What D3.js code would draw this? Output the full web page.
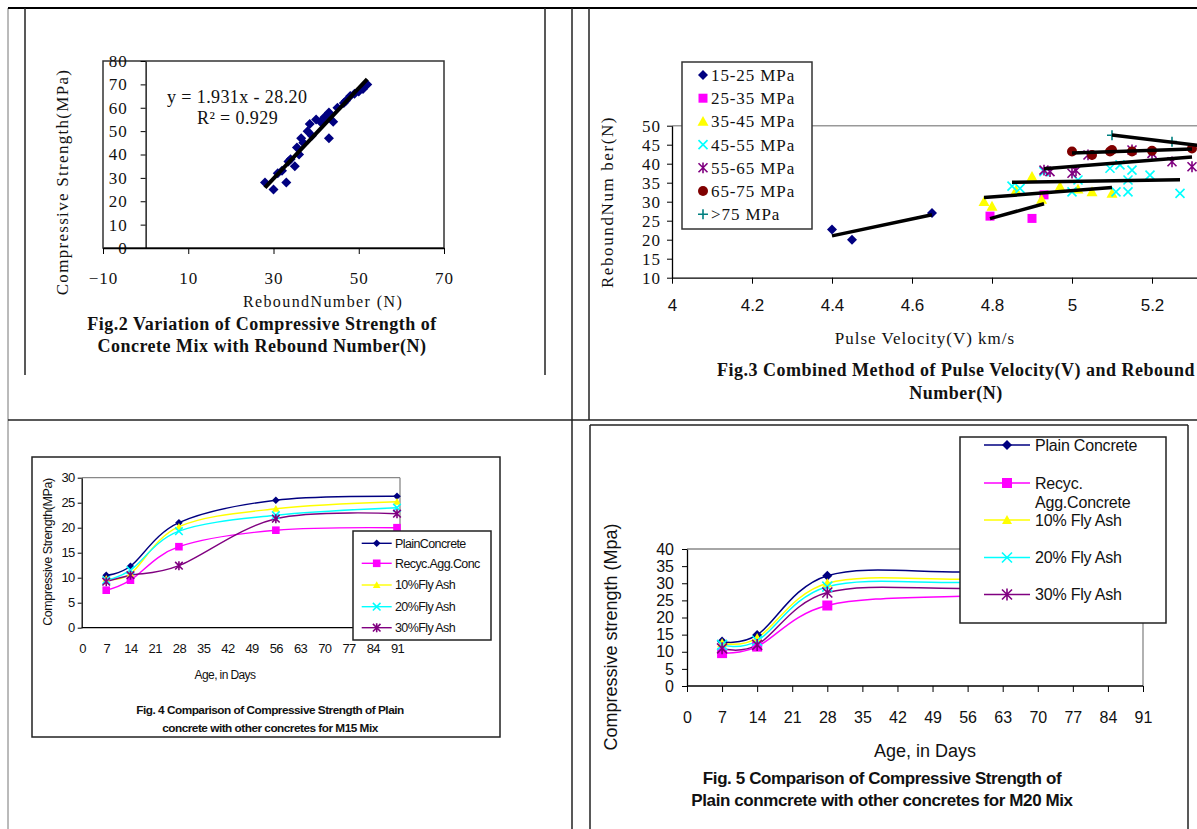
<!DOCTYPE html>
<html>
<head>
<meta charset="utf-8">
<script src="https://cdn.jsdelivr.net/npm/d3@7"></script>
<style>
  body { margin: 0; background: #fff; }
  svg { display: block; }
</style>
</head>
<body>
<svg id="page" width="1197" height="829"></svg>
<script>
// ---------- Fig.2 : compressive strength vs rebound number
const reboundN    = [28, 30, 31, 32, 33, 33.5, 34, 35, 35.5, 36, 36.5, 37, 38, 38.5, 39, 40, 41, 42, 43, 43, 44, 45, 46.5, 47, 48, 49, 50, 51, 52];
const strengthMPa = [28, 25, 32, 33, 28, 37, 38, 35, 43, 40, 47, 45, 50, 53, 48, 55, 54, 56, 47, 58, 54, 60, 62, 63, 65, 66, 67, 68, 70];
const fig2Slope = 1.931, fig2Intercept = -28.20;
const fig2XTicks = [-10, 10, 30, 50, 70];
const fig2YTicks = [0, 10, 20, 30, 40, 50, 60, 70, 80];

// ---------- Fig.3 : pulse velocity (km/s) vs rebound number, by strength band
const band15_25 = [[4.4, 22.7], [4.45, 20], [4.65, 27]];
const band25_35 = [[4.795, 26.2], [4.9, 25.6], [4.93, 31.8]];
const band35_45 = [[4.78, 30], [4.8, 28.8], [4.86, 33], [4.9, 36.6], [4.924, 30.6], [4.97, 34], [5.015, 33.3], [5.05, 32.6], [5.1, 32.2]];
const band45_55 = [[4.85, 34.1], [4.87, 33.5], [4.93, 37.9], [5.0, 32.6], [5.015, 35.7], [5.095, 38.8], [5.11, 32.6], [5.12, 39.7], [5.14, 32.6], [5.14, 35.7], [5.15, 38.3], [5.195, 37], [5.27, 32.2]];
const band55_65 = [[4.93, 38.3], [4.945, 37.9], [5.0, 37.5], [5.01, 38.2], [5.04, 42.3], [5.15, 43.6], [5.2, 42.7], [5.25, 40.5], [5.3, 39.2]];
const band65_75 = [[5.0, 43.2], [5.05, 42.3], [5.095, 43.2], [5.1, 43.6], [5.15, 43.2], [5.2, 43.4], [5.3, 44]];
const band75up  = [[5.1, 47.5], [5.25, 45.8], [5.36, 44.2]];
const bandNames = ["15-25 MPa", "25-35 MPa", "35-45 MPa", "45-55 MPa", "55-65 MPa", "65-75 MPa", ">75 MPa"];
const fig3XTicks = [4, 4.2, 4.4, 4.6, 4.8, 5, 5.2];
const fig3YTicks = [10, 15, 20, 25, 30, 35, 40, 45, 50];

// ---------- Fig.4 (M15) and Fig.5 (M20) : strength vs age
const ageDays = [7, 14, 28, 56, 91];
const m15Plain = [10.5, 12.3, 21, 25.5, 26.3];
const m15Recyc = [7.5, 9.5, 16.2, 19.5, 20];
const m15Fly10 = [9.8, 10.8, 20.2, 23.8, 25.2];
const m15Fly20 = [9.5, 11.5, 19.3, 22.5, 24];
const m15Fly30 = [9.2, 10.5, 12.4, 21.8, 22.8];
const m20Plain = [13, 14.9, 32.2, 33.3, 33.5];
const m20Recyc = [9.6, 11.5, 23.5, 26.3, 26.8];
const m20Fly10 = [12.5, 14, 30, 31.2, 31.4];
const m20Fly20 = [12, 13.2, 29, 30.2, 30.4];
const m20Fly30 = [11, 12, 27.3, 28.5, 28.7];
const ageTicks = [0, 7, 14, 21, 28, 35, 42, 49, 56, 63, 70, 77, 84, 91];
const m15YTicks = [0, 5, 10, 15, 20, 25, 30];
const m20YTicks = [0, 5, 10, 15, 20, 25, 30, 35, 40];

const SERIF = "'Liberation Serif','Times New Roman',serif";
const SANS = "'Liberation Sans',Arial,sans-serif";

const svg = d3.select("#page");
svg.append("rect").attr("width", 1197).attr("height", 829).attr("fill", "#fff");

// marker shapes (h = half size)
const shapes = {
  diamond: h => `M0,${-h}L${h},0L0,${h}L${-h},0Z`,
  square: h => `M${-h},${-h}H${h}V${h}H${-h}Z`,
  triangle: h => `M0,${-h}L${h},${h * 0.8}L${-h},${h * 0.8}Z`,
  circle: h => `M${-h},0A${h},${h} 0 1,0 ${h},0A${h},${h} 0 1,0 ${-h},0Z`,
  x: h => `M${-h},${-h}L${h},${h}M${-h},${h}L${h},${-h}`,
  star: h => `M${-h},${-h}L${h},${h}M${-h},${h}L${h},${-h}M0,${-h * 1.2}V${h * 1.2}`,
  plus: h => `M${-h},0H${h}M0,${-h}V${h}`
};
const filled = { diamond: true, square: true, triangle: true, circle: true };

function marker(g, type, color, x, y, h) {
  const p = g.append("path").attr("transform", `translate(${x},${y})`).attr("d", shapes[type](h));
  if (filled[type]) p.attr("fill", color);
  else p.attr("fill", "none").attr("stroke", color).attr("stroke-width", 1.6);
  return p;
}

function label(g, x, y, str, o = {}) {
  const t = g.append("text").attr("x", x).attr("y", y).attr("dy", "0.35em")
    .attr("font-family", o.font || SERIF).attr("font-size", o.size || 16)
    .attr("font-weight", o.bold ? "bold" : "normal")
    .attr("text-anchor", o.anchor || "middle").attr("fill", o.color || "#111").text(str);
  if (o.rotate) t.attr("transform", `rotate(-90,${x},${y})`);
  if (o.ls) t.attr("letter-spacing", o.ls);
  return t;
}

function styleAxis(g, font, size, ls) {
  g.attr("font-family", font).attr("font-size", size);
  g.selectAll("line").attr("stroke", "#000");
  g.selectAll("path.domain").attr("stroke", "#000").attr("stroke-width", 1.3);
  g.selectAll("text").attr("fill", "#111");
  if (ls) g.selectAll("text").attr("letter-spacing", ls);
}

function line(g, x1, y1, x2, y2, color = "#000", w = 1.5) {
  g.append("line").attr("x1", x1).attr("y1", y1).attr("x2", x2).attr("y2", y2)
    .attr("stroke", color).attr("stroke-width", w);
}

function fitLine(pts) {
  const mx = d3.mean(pts, d => d[0]), my = d3.mean(pts, d => d[1]);
  const sxy = d3.sum(pts, d => (d[0] - mx) * (d[1] - my));
  const sxx = d3.sum(pts, d => (d[0] - mx) ** 2);
  const b = sxy / sxx;
  const [x0, x1] = d3.extent(pts, d => d[0]);
  return [[x0, my + b * (x0 - mx)], [x1, my + b * (x1 - mx)]];
}

// ---------- table frame
const frame = svg.append("g");
line(frame, 8, 8, 8, 829, "#777", 1);
line(frame, 8, 8, 1197, 8, "#000", 2);
line(frame, 25, 8, 25, 375, "#222", 1.5);
line(frame, 545, 8, 545, 375, "#222", 1.5);
line(frame, 572, 8, 572, 829, "#222", 1.5);
line(frame, 589, 8, 589, 420, "#222", 1.5);
line(frame, 8, 420, 1197, 420, "#222", 1.5);
frame.append("rect").attr("x", 32).attr("y", 457).attr("width", 468).attr("height", 280)
  .attr("fill", "none").attr("stroke", "#222").attr("stroke-width", 1.5);
line(frame, 590, 425, 590, 829, "#222", 1.5);
line(frame, 590, 425, 1188, 425, "#222", 1.5);
line(frame, 1188, 425, 1188, 829, "#222", 1.5);

// ---------- Fig.2
const f2 = svg.append("g");
const x2 = d3.scaleLinear([-10, 70], [103, 444]);
const y2 = d3.scaleLinear([0, 80], [248, 61]);
f2.append("rect").attr("x", 103).attr("y", 61).attr("width", 341).attr("height", 187)
  .attr("fill", "none").attr("stroke", "#333").attr("stroke-width", 1.5);
f2.append("g").attr("transform", `translate(${x2(0)},0)`)
  .call(d3.axisLeft(y2).tickValues(fig2YTicks).tickSize(5).tickSizeOuter(0).tickPadding(13))
  .call(g => styleAxis(g, SERIF, 17, 1));
f2.append("g").attr("transform", `translate(0,${y2(0)})`)
  .call(d3.axisBottom(x2).tickValues(fig2XTicks).tickSize(6).tickSizeOuter(0).tickPadding(18))
  .call(g => styleAxis(g, SERIF, 17, 1));
reboundN.forEach((n, i) => marker(f2, "diamond", "#000080", x2(n), y2(strengthMPa[i]), 5));
const [n0, n1] = d3.extent(reboundN);
f2.append("line")
  .attr("x1", x2(n0)).attr("y1", y2(fig2Slope * n0 + fig2Intercept))
  .attr("x2", x2(n1)).attr("y2", y2(fig2Slope * n1 + fig2Intercept))
  .attr("stroke", "#000").attr("stroke-width", 4);
label(f2, 167, 97, `y = ${fig2Slope}x - ${Math.abs(fig2Intercept).toFixed(2)}`, { anchor: "start", size: 18, ls: 0.4 });
label(f2, 197, 118, "R² = 0.929", { anchor: "start", size: 18, ls: 0.4 });
label(f2, 62, 182, "Compressive Strength(MPa)", { rotate: true, size: 17, ls: 1.3 });
label(f2, 323, 301, "ReboundNumber (N)", { size: 16, ls: 1.4 });
label(f2, 262, 324, "Fig.2 Variation of Compressive Strength of", { bold: true, size: 18, ls: 0.5 });
label(f2, 262, 346, "Concrete Mix with Rebound Number(N)", { bold: true, size: 18, ls: 0.5 });

// ---------- Fig.3
const f3 = svg.append("g");
const x3 = d3.scaleLinear([4, 5.4], [672, 1232]);
const y3 = d3.scaleLinear([10, 50], [277.7, 125.7]);
line(f3, x3(4), y3(50), 1197, y3(50), "#999", 1.6);
f3.append("g").attr("transform", `translate(${x3(4)},0)`)
  .call(d3.axisLeft(y3).tickValues(fig3YTicks).tickSize(5).tickSizeOuter(0).tickPadding(6))
  .call(g => styleAxis(g, SERIF, 17, 1));
f3.append("g").attr("transform", `translate(0,${y3(10)})`)
  .call(d3.axisBottom(x3).tickValues(fig3XTicks).tickSize(6).tickSizeOuter(0).tickPadding(15)
    .tickFormat(d => String(+d.toFixed(1))))
  .call(g => styleAxis(g, SANS, 17));
const bands = [
  { pts: band15_25, shape: "diamond", color: "#000080", h: 5 },
  { pts: band25_35, shape: "square", color: "#FF00FF", h: 4.5 },
  { pts: band35_45, shape: "triangle", color: "#FFFF00", h: 5.5 },
  { pts: band45_55, shape: "x", color: "#00FFFF", h: 4.5 },
  { pts: band55_65, shape: "star", color: "#800080", h: 4.5 },
  { pts: band65_75, shape: "circle", color: "#800000", h: 5 },
  { pts: band75up, shape: "plus", color: "#008080", h: 5 }
];
bands.forEach(b => b.pts.forEach(p => marker(f3, b.shape, b.color, x3(p[0]), y3(p[1]), b.h)));
bands.forEach(b => {
  const [a, c] = fitLine(b.pts);
  f3.append("line").attr("x1", x3(a[0])).attr("y1", y3(a[1])).attr("x2", x3(c[0])).attr("y2", y3(c[1]))
    .attr("stroke", "#000").attr("stroke-width", 3.5);
});
f3.append("rect").attr("x", 682).attr("y", 62).attr("width", 130).attr("height", 167)
  .attr("fill", "#fff").attr("stroke", "#333").attr("stroke-width", 1.5);
bands.forEach((b, i) => {
  const yy = 75 + i * 23.2;
  marker(f3, b.shape, b.color, 703, yy, b.h);
  label(f3, 711, yy, bandNames[i], { anchor: "start", size: 17, ls: 0.9 });
});
label(f3, 607, 202, "ReboundNum ber(N)", { rotate: true, size: 17, ls: 1.6 });
label(f3, 925, 338, "Pulse Velocity(V) km/s", { size: 17, ls: 1 });
label(f3, 956, 370, "Fig.3  Combined Method of Pulse Velocity(V) and Rebound", { bold: true, size: 18, ls: 0.5 });
label(f3, 956, 393, "Number(N)", { bold: true, size: 18, ls: 0.5 });

// ---------- age charts (Fig.4 and Fig.5)
function ageChart(cfg) {
  const g = svg.append("g");
  const x = d3.scaleLinear([0, 91], cfg.xRange);
  const y = d3.scaleLinear([0, cfg.yMax], cfg.yRange);
  line(g, cfg.box[0], cfg.yRange[1], cfg.box[1], cfg.yRange[1], "#888", 1.3);
  line(g, cfg.box[1], cfg.yRange[1], cfg.box[1], cfg.yRange[0], "#888", 1.3);
  g.append("g").attr("transform", `translate(${cfg.box[0]},0)`)
    .call(d3.axisLeft(y).tickValues(cfg.yTicks).tickSize(cfg.yTick).tickSizeOuter(0).tickPadding(cfg.yPad))
    .call(a => styleAxis(a, SANS, cfg.tickFont, cfg.ls));
  const xAxis = g.append("g").attr("transform", `translate(0,${cfg.yRange[0]})`)
    .call(d3.axisBottom(x).tickValues(ageTicks).tickSize(cfg.xTick).tickSizeOuter(0).tickPadding(cfg.xPad))
    .call(a => styleAxis(a, SANS, cfg.tickFont, cfg.ls));
  xAxis.select("path.domain").attr("d", `M${cfg.box[0]},0H${cfg.box[1]}`);
  const path = d3.line().x((d, i) => x(ageDays[i])).y(d => y(d)).curve(d3.curveCardinal);
  cfg.series.forEach(s => {
    g.append("path").attr("d", path(s.values)).attr("fill", "none")
      .attr("stroke", s.color).attr("stroke-width", cfg.lw);
  });
  cfg.series.forEach(s => s.values.forEach((v, i) =>
    marker(g, s.shape, s.color, x(ageDays[i]), y(v), cfg.mh)));
  const L = cfg.legend;
  g.append("rect").attr("x", L.x).attr("y", L.y).attr("width", L.w).attr("height", L.h)
    .attr("fill", "#fff").attr("stroke", "#222").attr("stroke-width", 1.5);
  cfg.series.forEach((s, i) => {
    const yy = L.rows[i];
    line(g, L.lx0, yy, L.lx1, yy, s.color, cfg.lw);
    marker(g, s.shape, s.color, (L.lx0 + L.lx1) / 2, yy, cfg.mh);
    s.label.forEach((t, k) =>
      label(g, L.tx, yy + k * L.lineGap, t, { anchor: "start", font: SANS, size: L.size, ls: L.ls }));
  });
  return g;
}

const seriesStyle = [
  { shape: "diamond", color: "#000080" },
  { shape: "square", color: "#FF00FF" },
  { shape: "triangle", color: "#FFFF00" },
  { shape: "x", color: "#00FFFF" },
  { shape: "star", color: "#800080" }
];

const f4 = ageChart({
  xRange: [82, 397], yMax: 30, yRange: [627.7, 477.7], box: [81.7, 400],
  yTicks: m15YTicks, yTick: 4, yPad: 3, xTick: 0, xPad: 16, tickFont: 13, ls: -0.6,
  lw: 1.4, mh: 3.8,
  series: [m15Plain, m15Recyc, m15Fly10, m15Fly20, m15Fly30].map((v, i) => ({
    values: v, ...seriesStyle[i],
    label: [["PlainConcrete"], ["Recyc.Agg.Conc"], ["10%Fly Ash"], ["20%Fly Ash"], ["30%Fly Ash"]][i]
  })),
  legend: { x: 353, y: 531, w: 138, h: 109, rows: [543.3, 563.3, 585, 606.7, 627.7],
    lx0: 361.7, lx1: 391.7, tx: 395, size: 12.5, ls: -0.6, lineGap: 0 }
});
label(f4, 48, 552, "Compressive Strength(MPa)", { rotate: true, font: SANS, size: 12.5, ls: -0.4 });
label(f4, 225, 675, "Age, in Days", { font: SANS, size: 12, ls: -0.6 });
label(f4, 270, 710, "Fig. 4 Comparison of Compressive Strength of Plain", { font: SANS, bold: true, size: 11.8, ls: -0.5 });
label(f4, 270, 728, "concrete with other concretes for M15 Mix", { font: SANS, bold: true, size: 11.8, ls: -0.5 });

const f5 = ageChart({
  xRange: [687, 1143], yMax: 40, yRange: [686, 549], box: [687, 1143],
  yTicks: m20YTicks, yTick: 5, yPad: 8, xTick: 6, xPad: 20, tickFont: 16, ls: 0,
  lw: 1.5, mh: 5,
  series: [m20Plain, m20Recyc, m20Fly10, m20Fly20, m20Fly30].map((v, i) => ({
    values: v, ...seriesStyle[i],
    label: [["Plain Concrete"], ["Recyc.", "Agg.Concrete"], ["10% Fly Ash"], ["20% Fly Ash"], ["30% Fly Ash"]][i]
  })),
  legend: { x: 960, y: 437, w: 206, h: 186, rows: [445, 483, 520, 557.5, 594.5],
    lx0: 984, lx1: 1030, tx: 1035, size: 16, ls: -0.2, lineGap: 19.5 }
});
label(f5, 611, 637, "Compressive strength (Mpa)", { rotate: true, font: SANS, size: 18 });
label(f5, 925, 751, "Age, in Days", { font: SANS, size: 18 });
label(f5, 882, 778, "Fig. 5 Comparison of Compressive Strength of", { font: SANS, bold: true, size: 17, ls: -0.4 });
label(f5, 882, 800, "Plain conmcrete with other concretes for M20 Mix", { font: SANS, bold: true, size: 17, ls: -0.4 });
</script>
</body>
</html>
